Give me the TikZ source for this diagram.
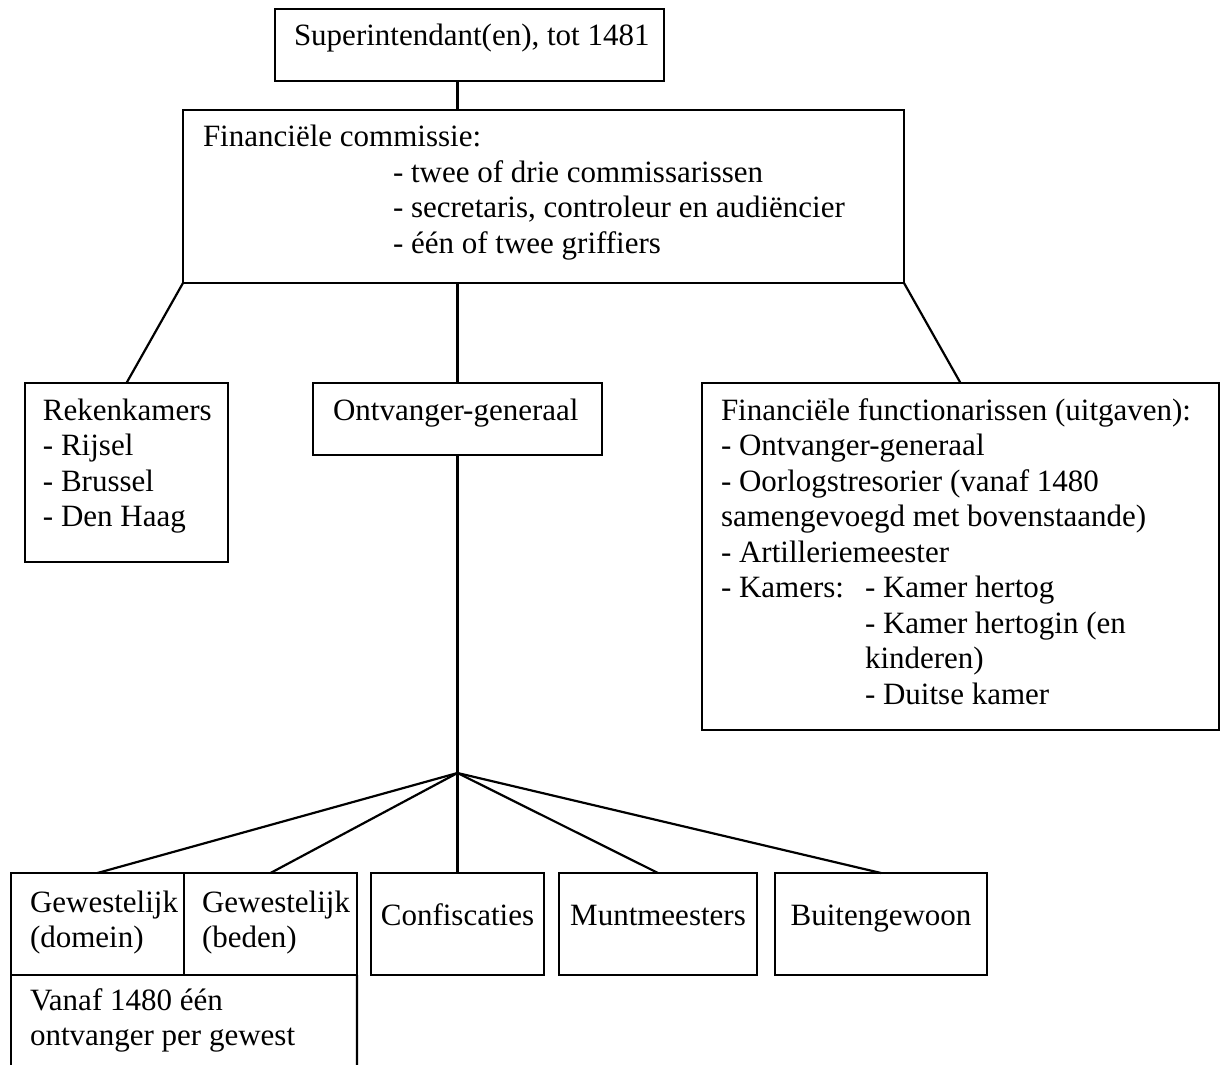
\documentclass[tikz,border=0pt]{standalone}
\usepackage{fontspec}
\setmainfont{Liberation Serif}
\usetikzlibrary{fit}
\begin{document}
\begin{tikzpicture}[x=0.3871pt,y=-0.3871pt,
  box/.style={draw, line width=0.85pt, inner sep=0pt, outer sep=0pt},
  txt/.style={anchor=base west, inner sep=0pt, outer sep=0pt, font=\fontsize{12}{13.8}\selectfont},
  ctxt/.style={anchor=base, inner sep=0pt, outer sep=0pt, font=\fontsize{12}{13.8}\selectfont},
  conn/.style={line width=0.85pt}]
\useasboundingbox (0,0) rectangle (1222,1065);

% boxes
\node[box, fit={(275,9) (664,81)}] (top) {};
\node[box, fit={(183,110) (904,283)}] (fin) {};
\node[box, fit={(25,383) (228,562)}] (rek) {};
\node[box, fit={(313,383) (602,455)}] (ontv) {};
\node[box, fit={(702,383) (1219,730)}] (right) {};
\node[box, fit={(11,873) (184,975)}] (gewa) {};
\node[box, fit={(184,873) (357,975)}] (gewb) {};
\node[box, fit={(371,873) (544,975)}] (conf) {};
\node[box, fit={(559,873) (757,975)}] (munt) {};
\node[box, fit={(775,873) (987,975)}] (buit) {};
\coordinate (vanafbl) at (11,1065);
\coordinate (vanafbr) at (357,1065);
\draw[conn] (gewa.south west) -- (vanafbl);
\draw[conn] (gewb.south east) -- (vanafbr);

% texts
\node[txt] (t0) at (294,46) {Superintendant(en), tot 1481};

\node[txt] (f1) at (203,147) {Financiële commissie:};
\node[txt] (f2) at (393,182.5) {- twee of drie commissarissen};
\node[txt] (f3) at (393,218) {- secretaris, controleur en audiëncier};
\node[txt] (f4) at (393,253.5) {- één of twee griffiers};

\node[txt] (r1) at (43,420) {Rekenkamers};
\node[txt] (r2) at (43,455.5) {- Rijsel};
\node[txt] (r3) at (43,491) {- Brussel};
\node[txt] (r4) at (43,526.5) {- Den Haag};

\node[txt] (o1) at (333,421) {Ontvanger-generaal};

\node[txt] (u1) at (721,420) {Financiële functionarissen (uitgaven):};
\node[txt] (u2) at (721,455.5) {- Ontvanger-generaal};
\node[txt] (u3) at (721,491) {- Oorlogstresorier (vanaf 1480};
\node[txt] (u4) at (721,526.5) {samengevoegd met bovenstaande)};
\node[txt] (u5) at (721,562) {- Artilleriemeester};
\node[txt] (u6) at (721,597.5) {- Kamers:};
\node[txt] (u7) at (865,597.5) {- Kamer hertog};
\node[txt] (u8) at (865,633) {- Kamer hertogin (en};
\node[txt] (u9) at (865,668.5) {kinderen)};
\node[txt] (u10) at (865,704) {- Duitse kamer};

\node[txt] (g1) at (30,912) {Gewestelijk};
\node[txt] (g2) at (30,947) {(domein)};
\node[txt] (g3) at (202,912) {Gewestelijk};
\node[txt] (g4) at (202,947) {(beden)};
\node[ctxt] (c1) at (457.5,925) {Confiscaties};
\node[ctxt] (m1) at (658,925) {Muntmeesters};
\node[ctxt] (b1) at (881,925) {Buitengewoon};
\node[txt] (v1) at (30,1010) {Vanaf 1480 één};
\node[txt] (v2) at (30,1045) {ontvanger per gewest};

% connectors
\coordinate (hub) at (457.5,773);
\draw[conn] (ontv.north |- top.south) -- (ontv.north |- fin.north);
\draw[conn] (fin.south west) -- (rek.north);
\draw[conn] (ontv.north |- fin.south) -- (ontv.north);
\draw[conn] (fin.south east) -- (right.north);
\draw[conn] (ontv.south) -- (hub);
\draw[conn] (hub) -- (gewa.north);
\draw[conn] (hub) -- (gewb.north);
\draw[conn] (hub) -- (conf.north);
\draw[conn] (hub) -- (munt.north);
\draw[conn] (hub) -- (buit.north);
\end{tikzpicture}
\end{document}
